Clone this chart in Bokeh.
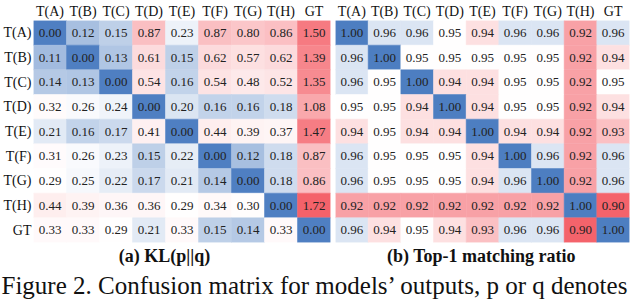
from bokeh.plotting import figure
from bokeh.models import ColumnDataSource, LinearColorMapper, Label
from bokeh.transform import transform
from bokeh.layouts import column, row
from bokeh.embed import file_html
from bokeh.resources import INLINE
from bokeh.core.properties import value

# ---------------- data ----------------
models = ["T(A)", "T(B)", "T(C)", "T(D)", "T(E)", "T(F)", "T(G)", "T(H)", "GT"]

kl_values = [
    [0.00, 0.12, 0.15, 0.87, 0.23, 0.87, 0.80, 0.86, 1.50],
    [0.11, 0.00, 0.13, 0.61, 0.15, 0.62, 0.57, 0.62, 1.39],
    [0.14, 0.13, 0.00, 0.54, 0.16, 0.54, 0.48, 0.52, 1.35],
    [0.32, 0.26, 0.24, 0.00, 0.20, 0.16, 0.16, 0.18, 1.08],
    [0.21, 0.16, 0.17, 0.41, 0.00, 0.44, 0.39, 0.37, 1.47],
    [0.31, 0.26, 0.23, 0.15, 0.22, 0.00, 0.12, 0.18, 0.87],
    [0.29, 0.25, 0.22, 0.17, 0.21, 0.14, 0.00, 0.18, 0.86],
    [0.44, 0.39, 0.36, 0.36, 0.29, 0.34, 0.30, 0.00, 1.72],
    [0.33, 0.33, 0.29, 0.21, 0.33, 0.15, 0.14, 0.33, 0.00],
]

top1_values = [
    [1.00, 0.96, 0.96, 0.95, 0.94, 0.96, 0.96, 0.92, 0.96],
    [0.96, 1.00, 0.95, 0.95, 0.95, 0.95, 0.95, 0.92, 0.94],
    [0.96, 0.95, 1.00, 0.94, 0.94, 0.95, 0.95, 0.92, 0.95],
    [0.95, 0.95, 0.94, 1.00, 0.94, 0.95, 0.95, 0.92, 0.94],
    [0.94, 0.95, 0.94, 0.94, 1.00, 0.94, 0.94, 0.92, 0.93],
    [0.96, 0.95, 0.95, 0.95, 0.94, 1.00, 0.96, 0.92, 0.96],
    [0.96, 0.95, 0.95, 0.95, 0.94, 0.96, 1.00, 0.92, 0.96],
    [0.92, 0.92, 0.92, 0.92, 0.92, 0.92, 0.92, 1.00, 0.90],
    [0.96, 0.94, 0.95, 0.94, 0.93, 0.96, 0.96, 0.90, 1.00],
]

caption_a = "(a) KL(p||q)"
caption_b = "(b) Top-1 matching ratio"
figure_caption = "Figure 2. Confusion matrix for models\u2019 outputs, p or q denotes"

# ---------------- style ----------------
FONT = "Liberation Serif"
BLUE = (76, 125, 193)
RED = (244, 98, 106)


def diverging_palette(low, center, high, low_color, high_color,
                      low_gamma=1.0, high_gamma=1.0, n=256):
    pal = []
    for i in range(n):
        v = low + (i + 0.5) / n * (high - low)
        if v < center:
            t = ((center - v) / (center - low)) ** low_gamma
            c = low_color
        else:
            t = ((v - center) / (high - center)) ** high_gamma
            c = high_color
        t = min(max(t, 0.0), 1.0)
        rgb = tuple(int(round(255 + (ci - 255) * t)) for ci in c)
        pal.append("#%02x%02x%02x" % rgb)
    return pal


kl_mapper = LinearColorMapper(
    palette=diverging_palette(0.0, 0.28, 1.72, BLUE, RED, low_gamma=1.3),
    low=0.0, high=1.72)
top1_mapper = LinearColorMapper(
    palette=diverging_palette(0.90, 0.95, 1.00, RED, BLUE),
    low=0.90, high=1.00)


def make_panel(matrix, mapper, width, border_left, border_right, show_y):
    rows, cols, vals, labels = [], [], [], []
    for i, r in enumerate(models):
        for j, c in enumerate(models):
            v = matrix[i][j]
            rows.append(r)
            cols.append(c)
            vals.append(v)
            labels.append(f"{v:.2f}")
    src = ColumnDataSource(dict(row=rows, col=cols, val=vals, label=labels))

    p = figure(width=width, height=244, x_range=models,
               y_range=list(reversed(models)), x_axis_location="above",
               output_backend="svg", toolbar_location=None,
               min_border_left=border_left, min_border_right=border_right,
               min_border_top=16, min_border_bottom=2)
    p.rect(x="col", y="row", width=1, height=1, source=src,
           fill_color=transform("val", mapper),
           line_color=transform("val", mapper), line_width=0.5)
    p.text(x="col", y="row", text="label", source=src,
           text_align="center", text_baseline="middle",
           text_font=value(FONT), text_font_size="13px",
           text_color="#222222")

    p.outline_line_color = None
    p.xgrid.grid_line_color = None
    p.ygrid.grid_line_color = None
    for ax in p.axis:
        ax.axis_line_color = None
        ax.major_tick_line_color = None
        ax.minor_tick_line_color = None
        ax.major_tick_out = 0
        ax.major_tick_in = 0
        ax.major_label_text_font = FONT
        ax.major_label_text_font_size = "14px"
        ax.major_label_text_color = "#111111"
        ax.major_label_standoff = 2
    if not show_y:
        p.yaxis.visible = False
    return p


p1 = make_panel(kl_values, kl_mapper, 332, 32, 2, True)
p2 = make_panel(top1_values, top1_mapper, 300, 3, 3, False)

# captions strip (frame == canvas, positions measured from bottom-left)
p3 = figure(width=640, height=55, output_backend="svg", toolbar_location=None,
            x_axis_type=None, y_axis_type=None,
            min_border_left=0, min_border_right=0,
            min_border_top=0, min_border_bottom=0)
p3.outline_line_color = None
p3.xgrid.grid_line_color = None
p3.ygrid.grid_line_color = None
for text, cx in ((caption_a, 164), (caption_b, 481)):
    p3.add_layout(Label(x=cx, y=44, x_units="screen", y_units="screen",
                        text=text, text_align="center",
                        text_baseline="alphabetic", text_font=FONT,
                        text_font_style="bold", text_font_size="18px",
                        text_color="#111111"))
p3.add_layout(Label(x=1, y=14, x_units="screen", y_units="screen",
                    text=figure_caption, text_align="left",
                    text_baseline="alphabetic", text_font=FONT,
                    text_font_size="25px", text_color="#111111"))

layout = column(row(p1, p2), p3, spacing=0)

open("out.html", "w").write(file_html(layout, INLINE))
